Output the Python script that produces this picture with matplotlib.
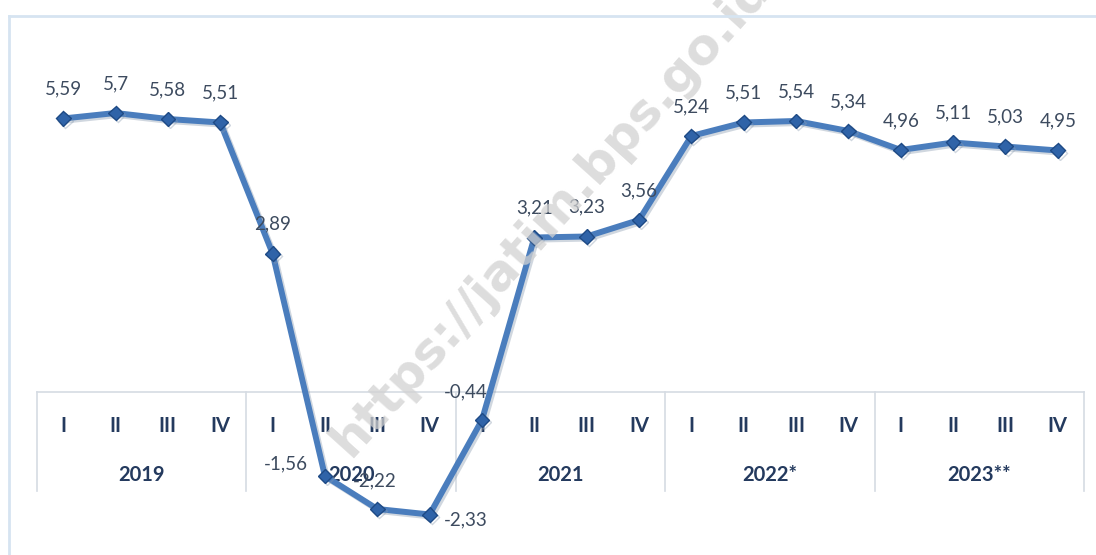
import matplotlib
matplotlib.use("Agg")
import matplotlib.pyplot as plt
import matplotlib.patheffects as pe
from matplotlib.transforms import blended_transform_factory
from matplotlib.lines import Line2D

# quarterly growth (%), 2019 Q1 .. 2023 Q4
years = ["2019", "2020", "2021", "2022*", "2023**"]
quarters = ["I", "II", "III", "IV"]
growth = [5.59, 5.70, 5.58, 5.51,
          2.89, -1.56, -2.22, -2.33,
          -0.44, 3.21, 3.23, 3.56,
          5.24, 5.51, 5.54, 5.34,
          4.96, 5.11, 5.03, 4.95]
value_labels = ["5,59", "5,7", "5,58", "5,51",
                "2,89", "-1,56", "-2,22", "-2,33",
                "-0,44", "3,21", "3,23", "3,56",
                "5,24", "5,51", "5,54", "5,34",
                "4,96", "5,11", "5,03", "4,95"]

W, H = 1096, 555
plt.rcParams['font.family'] = ['Lato', 'DejaVu Sans']

fig = plt.figure(figsize=(W / 100, H / 100), dpi=100)
fig.patch.set_facecolor("white")

# outer chart border (only top and left visible)
border = "#d6e4f1"
fig.add_artist(Line2D([9 / W, 9 / W], [0, 1 - 16 / H], transform=fig.transFigure, color=border, lw=2))
fig.add_artist(Line2D([9 / W, 1], [1 - 16 / H, 1 - 16 / H], transform=fig.transFigure, color=border, lw=2))

ax = fig.add_axes([37 / W, 1 - 540 / H, 1047 / W, 480 / H])
ax.set_xlim(-0.5, 19.5)
ax.set_ylim(-2.84, 6.76)
ax.axis("off")

# watermark
fig.text(551 / W, 1 - 214 / H, "https://jatim.bps.go.id", rotation=48, ha="center", va="center",
         fontsize=36, fontweight="bold", color="#d2d2d2", alpha=0.75, zorder=0, family="DejaVu Sans")

# category table
tr = blended_transform_factory(ax.transData, fig.transFigure)
grid = "#d5dbe3"
n = len(growth)
y_top, y_bot = 1 - 392 / H, 1 - 491 / H
ax.add_line(Line2D([-0.5, n - 0.5], [y_top, y_top], transform=tr, color=grid, lw=1.2, clip_on=False))
for k in range(len(years) + 1):
    xb = 4 * k - 0.5
    ax.add_line(Line2D([xb, xb], [y_top, y_bot], transform=tr, color=grid, lw=1.2, clip_on=False))

lab_col = "#243a5e"
for i in range(n):
    ax.text(i, 1 - 426 / H, quarters[i % 4], transform=tr, ha="center", va="center",
            fontsize=14.5, fontweight="bold", color=lab_col, clip_on=False)
for k, yr in enumerate(years):
    ax.text(4 * k + 1.5, 1 - 475 / H, yr, transform=tr, ha="center", va="center",
            fontsize=14.5, fontweight="bold", color=lab_col, clip_on=False)

# series
x = list(range(n))
ax.plot(x, growth, color="#4a7dbd", lw=4.3, solid_joinstyle="round", zorder=5,
        marker="D", ms=7.5, mfc="#2f63a8", mec="#1e4a85", mew=1, clip_on=False,
        path_effects=[pe.SimpleLineShadow(offset=(1.5, -1.5), shadow_color="#8a9bb0", alpha=0.4), pe.Normal()])

# data labels: offsets in points (default above the point)
offsets = {5: (-28, 9), 6: (-2, 20), 7: (26, -4), 8: (-12, 20)}
for i, (v, t) in enumerate(zip(growth, value_labels)):
    dx, dy = offsets.get(i, (0, 21))
    ax.annotate(t, (i, v), xytext=(dx, dy), textcoords="offset points", ha="center", va="center",
                fontsize=13.5, color="#3d4b5f", zorder=6, annotation_clip=False)

fig.savefig("out.png", dpi=100)
